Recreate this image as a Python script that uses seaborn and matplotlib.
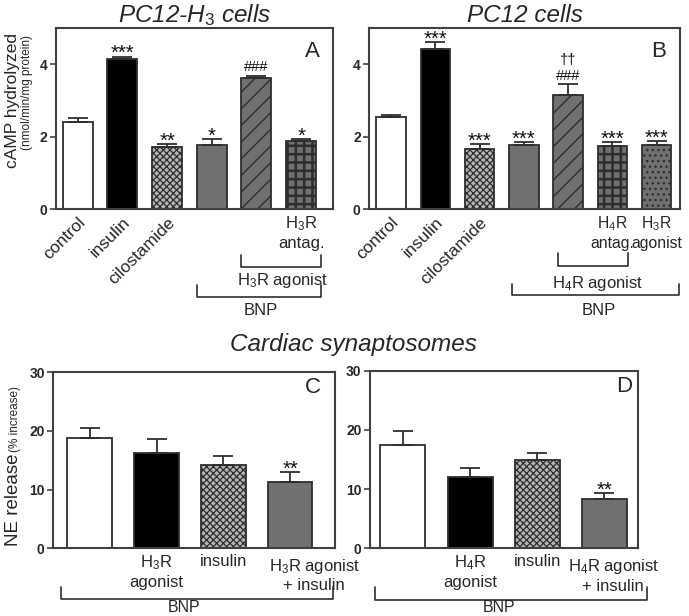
import matplotlib
matplotlib.use("Agg")
import matplotlib.pyplot as plt
import seaborn as sns
import pandas as pd

sns.set_style("ticks")
plt.rcParams['font.family'] = ['Liberation Sans', 'DejaVu Sans']
plt.rcParams['mathtext.fontset'] = 'custom'
plt.rcParams['mathtext.rm'] = 'Liberation Sans'
plt.rcParams['mathtext.it'] = 'Liberation Sans:italic'
plt.rcParams['mathtext.bf'] = 'Liberation Sans:bold'
plt.rcParams['hatch.linewidth'] = 1.0

DARK = '#2e2e2e'
GREY = '#707070'

# --- panel A : PC12-H3 cells
a_groups = ['control', 'insulin', 'cilostamide', 'bnp', 'bnp_h3ago', 'bnp_h3ago_antag']
a_labels = ['control', 'insulin', 'cilostamide', '', '', 'H$_3$R\nantag.']
a_mean = [2.39, 4.14, 1.70, 1.76, 3.61, 1.89]
a_sem = [0.13, 0.07, 0.09, 0.16, 0.07, 0.03]
a_sig = ['', '***', '**', '*', '', '*']
a_hash = ['', '', '', '', '###', '']

# --- panel B : PC12 cells
b_groups = ['control', 'insulin', 'cilostamide', 'bnp', 'bnp_h4ago', 'bnp_h4ago_antag', 'bnp_h3ago']
b_labels = ['control', 'insulin', 'cilostamide', '', '', 'H$_4$R\nantag.', 'H$_3$R\nagonist']
b_mean = [2.54, 4.42, 1.67, 1.78, 3.16, 1.74, 1.76]
b_sem = [0.06, 0.18, 0.12, 0.08, 0.30, 0.11, 0.12]
b_sig = ['', '***', '***', '***', '', '***', '***']
b_hash = ['', '', '', '', '###', '', '']
b_dagger = ['', '', '', '', '††', '', '']

# --- panel C / D : cardiac synaptosomes
c_groups = ['bnp', 'bnp_h3ago', 'bnp_insulin', 'bnp_h3ago_insulin']
c_labels = ['', 'H$_3$R\nagonist', 'insulin', '']
c_mean = [18.85, 16.3, 14.15, 11.2]
c_sem = [1.65, 2.3, 1.55, 1.7]
c_sig = ['', '', '', '**']

d_groups = ['bnp', 'bnp_h4ago', 'bnp_insulin', 'bnp_h4ago_insulin']
d_labels = ['', 'H$_4$R\nagonist', 'insulin', '']
d_mean = [17.4, 12.05, 15.0, 8.4]
d_sem = [2.5, 1.55, 1.1, 1.0]
d_sig = ['', '', '', '**']

# bar looks (face, hatch, hatch linewidth)
LOOK = {
    'white': ('white', '', 1.0),
    'black': ('black', '', 1.0),
    'check': ('#b4b4b4', 'xxxxx', 0.9),
    'grey': (GREY, '', 1.0),
    'diag': (GREY, '//', 1.0),
    'grid': (GREY, '++', 1.8),
    'dots': (GREY, '...', 1.0),
}
a_look = ['white', 'black', 'check', 'grey', 'diag', 'grid']
b_look = ['white', 'black', 'check', 'grey', 'diag', 'grid', 'dots']
cd_look = ['white', 'black', 'check', 'grey']

TICK_FS = 12


def draw_bars(ax, groups, means, sems, looks):
    df = pd.DataFrame({'g': groups, 'v': means})
    faces = {g: LOOK[l][0] for g, l in zip(groups, looks)}
    sns.barplot(data=df, x='g', y='v', hue='g', palette=faces, legend=False,
                saturation=1, width=0.67, edgecolor=DARK, linewidth=1.3,
                errorbar=None, ax=ax, zorder=2)
    for patch, l in zip(ax.patches, looks):
        patch.set_hatch(LOOK[l][1])
        if hasattr(patch, 'set_hatch_linewidth'):
            patch.set_hatch_linewidth(LOOK[l][2])
    n = len(means)
    ax.errorbar(range(n), means, yerr=[[0] * n, sems], fmt='none', ecolor=DARK,
                elinewidth=1.3, capsize=7, capthick=1.3, zorder=3)


def annotate(ax, means, sems, marks, size, dy):
    for i, (m, s, t) in enumerate(zip(means, sems, marks)):
        if t:
            ax.annotate(t, (i, m + s), xytext=(0, dy), textcoords='offset points',
                        ha='center', va='baseline', fontsize=size, color='#111')


def bracket(ax, x0, x1, y, ytop, text, tx, ty):
    tr = ax.get_xaxis_transform()
    ax.plot([x0, x0, x1, x1], [ytop, y, y, ytop], transform=tr, clip_on=False,
            color=DARK, lw=1.2)
    ax.text(tx, ty, text, transform=tr, ha='center', va='center', fontsize=TICK_FS)


def style_axes(ax, ylim, yticks, xlim):
    ax.set_ylim(*ylim)
    ax.set_yticks(yticks)
    ax.set_xlim(*xlim)
    ax.set_xlabel('')
    ax.set_ylabel('')
    for sp in ax.spines.values():
        sp.set_visible(True)
        sp.set_color('#404040')
        sp.set_linewidth(1.5)
    ax.tick_params(axis='y', length=4, width=1.2, color='#404040', labelsize=10, pad=2)
    ax.tick_params(axis='x', length=0, labelsize=TICK_FS, pad=4)
    for lab in ax.get_yticklabels():
        lab.set_fontweight('bold')


def set_xlabels(ax, labels, n_rot, flat_fs=TICK_FS):
    ax.set_xticks(range(len(labels)))
    ax.set_xticklabels(labels)
    for i, lab in enumerate(ax.get_xticklabels()):
        if i < n_rot:
            lab.set_rotation(45)
            lab.set_ha('right')
            lab.set_va('top')
            lab.set_rotation_mode('anchor')
            lab.set_fontsize(12.5)
        else:
            lab.set_ha('center')
            lab.set_va('top')
            lab.set_fontsize(flat_fs)


fig = plt.figure(figsize=(6.89, 6.16), dpi=100)
axA = fig.add_axes([0.081, 0.6607, 0.402, 0.294])
axB = fig.add_axes([0.5356, 0.6607, 0.4514, 0.294])
axC = fig.add_axes([0.077, 0.110, 0.409, 0.286])
axD = fig.add_axes([0.537, 0.110, 0.389, 0.288])

# A
draw_bars(axA, a_groups, a_mean, a_sem, a_look)
style_axes(axA, (0, 5), [0, 2, 4], (-0.49, 5.71))
set_xlabels(axA, a_labels, 3)
annotate(axA, a_mean, a_sem, a_sig, 14.5, -2)
annotate(axA, a_mean, a_sem, a_hash, 10.5, 3.5)
axA.set_title(r'PC12-H$_\mathit{3}$ cells', style='italic', fontsize=17.5, pad=4)
axA.text(0.955, 0.93, 'A', transform=axA.transAxes, ha='right', va='top', fontsize=16)
bracket(axA, 3.66, 5.45, -0.32, -0.254, 'H$_3$R agonist', 4.58, -0.392)
bracket(axA, 2.68, 5.45, -0.486, -0.42, 'BNP', 4.1, -0.558)

# B
draw_bars(axB, b_groups, b_mean, b_sem, b_look)
style_axes(axB, (0, 5), [0, 2, 4], (-0.5, 6.53))
set_xlabels(axB, b_labels, 3, flat_fs=11.3)
annotate(axB, b_mean, b_sem, b_sig, 14.5, -2)
annotate(axB, b_mean, b_sem, b_hash, 10.5, 3)
annotate(axB, b_mean, b_sem, b_dagger, 10.5, 14)
axB.set_title('PC12 cells', style='italic', fontsize=17.5, pad=4)
axB.text(0.955, 0.93, 'B', transform=axB.transAxes, ha='right', va='top', fontsize=16)
bracket(axB, 3.77, 5.35, -0.315, -0.243, 'H$_4$R agonist', 4.66, -0.41)
bracket(axB, 2.73, 6.5, -0.475, -0.414, 'BNP', 4.7, -0.558)

# C
draw_bars(axC, c_groups, c_mean, c_sem, cd_look)
style_axes(axC, (0, 30), [0, 10, 20, 30], (-0.55, 3.67))
set_xlabels(axC, c_labels, 0)
axC.text(3.36, -0.05, 'H$_3$R agonist\n+ insulin', transform=axC.get_xaxis_transform(),
         ha='center', va='top', fontsize=TICK_FS)
annotate(axC, c_mean, c_sem, c_sig, 14.5, -2)
axC.text(0.95, 0.97, 'C', transform=axC.transAxes, ha='right', va='top', fontsize=16)
bracket(axC, -0.43, 3.64, -0.29, -0.22, '', 1.6, -0.33)
axC.text(1.41, -0.335, 'BNP', transform=axC.get_xaxis_transform(), ha='center',
         va='center', fontsize=11.5)

# D
draw_bars(axD, d_groups, d_mean, d_sem, cd_look)
style_axes(axD, (0, 30), [0, 10, 20, 30], (-0.49, 3.5))
set_xlabels(axD, d_labels, 0)
axD.text(3.13, -0.05, 'H$_4$R agonist\n+ insulin', transform=axD.get_xaxis_transform(),
         ha='center', va='top', fontsize=TICK_FS)
annotate(axD, d_mean, d_sem, d_sig, 14.5, -2)
axD.text(0.98, 0.97, 'D', transform=axD.transAxes, ha='right', va='top', fontsize=16)
bracket(axD, -0.42, 3.63, -0.29, -0.22, '', 1.6, -0.33)
axD.text(1.43, -0.335, 'BNP', transform=axD.get_xaxis_transform(), ha='center',
         va='center', fontsize=11.5)

# y labels with a small unit part
fig.text(17 / 689, 1 - 100 / 616, 'cAMP hydrolyzed', rotation=90, rotation_mode='anchor',
         ha='center', va='baseline', fontsize=12.5)
fig.text(30 / 689, 1 - 93 / 616, '(nmol/min/mg protein)', rotation=90, rotation_mode='anchor',
         ha='center', va='baseline', fontsize=8.5)
fig.text(18 / 689, 1 - 546 / 616, 'NE release', rotation=90, rotation_mode='anchor',
         ha='left', va='baseline', fontsize=13.5)
fig.text(18 / 689, 1 - 452 / 616, '(% increase)', rotation=90, rotation_mode='anchor',
         ha='left', va='baseline', fontsize=8.5)

fig.text(353 / 689, 1 - 345 / 616, 'Cardiac synaptosomes', style='italic', fontsize=17.5,
         ha='center', va='center')

fig.savefig('out.png', dpi=100, facecolor='white')
